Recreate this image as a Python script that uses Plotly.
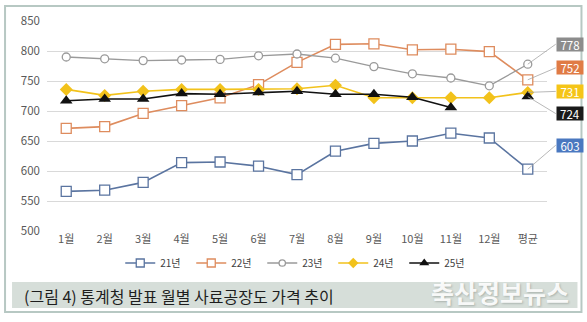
import plotly.graph_objects as go

months = ['1월', '2월', '3월', '4월', '5월', '6월', '7월', '8월', '9월', '10월', '11월', '12월', '평균']
y21 = [566, 568, 581, 614, 615, 608, 594, 633, 646, 650, 663, 655, 603]
y22 = [671, 674, 696, 709, 722, 744, 781, 811, 812, 802, 803, 799, 752]
y23 = [790, 787, 784, 785, 786, 792, 795, 788, 774, 762, 755, 742, 778]
y24 = [736, 726, 733, 736, 736, 736, 737, 743, 722, 722, 722, 722, 731]
y25 = [717, 720, 720, 729, 728, 731, 733, 728, 728, 723, 706, None, 724]
series_names = ['21년', '22년', '23년', '24년', '25년']
avg_labels = ['603', '752', '778', '731', '724']
caption = '(그림 4) 통계청 발표 월별 사료공장도 가격 추이'
watermark = '축산정보뉴스'

W, H = 587, 322
L, R, T, B = 47, 547.5, 21, 231


def px(x):
    return (x - L) / (R - L)


def py(y):
    return (B - y) / (B - T)


FONT = 'Noto Sans CJK KR'
styles = [
    dict(color='#5a74a0', symbol='square-open', size=10, fill='white', lw=1.6),
    dict(color='#de8c5e', symbol='square-open', size=10, fill='white', lw=1.6),
    dict(color='#9a9a9a', symbol='circle-open', size=8, fill='white', lw=1.3),
    dict(color='#f2c21b', symbol='diamond', size=10, fill='#f2c21b', lw=1.6),
    dict(color='#111111', symbol='triangle-up', size=11, fill='#111111', lw=1.6),
]


def make_marker(st, scale=1.0):
    if st['symbol'].endswith('-open'):
        return dict(symbol=st['symbol'].replace('-open', ''), size=st['size'] * scale, color='white',
                    line=dict(color=st['color'], width=1.3))
    return dict(symbol=st['symbol'], size=st['size'] * scale, color=st['fill'],
                line=dict(color=st['color'], width=0))


fig = go.Figure()
for name, ys, st in zip(series_names, [y21, y22, y23, y24, y25], styles):
    fig.add_trace(go.Scatter(x=months, y=ys, name=name, mode='lines+markers', legendgroup=name,
                             showlegend=False,
                             line=dict(color=st['color'], width=st['lw']),
                             marker=make_marker(st), connectgaps=False))
# legend entries with smaller symbols (no data drawn)
for name, st in zip(series_names, styles):
    fig.add_trace(go.Scatter(x=[None], y=[None], name=name, mode='lines+markers', legendgroup=name,
                             showlegend=True,
                             line=dict(color=st['color'], width=1.3),
                             marker=make_marker(st, 0.8)))

# average labels
box_colors = ['#4a78c0', '#e07b45', '#8c8c8c', '#f5c518', '#1a1a1a']
offsets = [(28, -24), (28, -12), (28, -20), (28, -1), (28, 17)]
avg_vals = [y21[-1], y22[-1], y23[-1], y24[-1], y25[-1]]
for lab, val, col, (ax, ay) in zip(avg_labels, avg_vals, box_colors, offsets):
    fig.add_annotation(x=months[-1], y=val, text=lab, showarrow=True, arrowhead=0,
                       arrowwidth=0.8, arrowcolor='#a6a6a6', ax=ax, ay=ay, standoff=0,
                       bgcolor=col, borderpad=0, xanchor='left', yanchor='middle',
                       width=26, height=13, align='center', valign='middle',
                       font=dict(family=FONT, size=11.5, color='white'))

shapes = [
    # outer frame
    dict(type='rect', xref='paper', yref='paper', x0=px(5), x1=px(582), y0=py(6), y1=py(312),
         line=dict(color='#b7c8c3', width=2), fillcolor='rgba(0,0,0,0)', layer='below'),
    # caption band
    dict(type='rect', xref='paper', yref='paper', x0=px(12), x1=px(578), y0=py(282), y1=py(308),
         line=dict(width=0), fillcolor='#d6ded9', layer='below'),
]

annotations = [
    dict(xref='paper', yref='paper', x=px(22), y=py(296), text=caption, showarrow=False,
         xanchor='left', yanchor='middle', font=dict(family=FONT, size=16, color='#1e1e1e')),
    dict(xref='paper', yref='paper', x=px(500), y=py(292), text='<b>' + watermark + '</b>', showarrow=False,
         xanchor='center', yanchor='middle',
         font=dict(family=FONT, size=25, color='rgba(255,255,255,0.92)',
                   shadow='1px 1px 2px rgba(80,90,85,0.35)')),
]

fig.update_layout(
    width=W, height=H,
    margin=dict(l=L, r=W - R, t=T, b=H - B),
    paper_bgcolor='white', plot_bgcolor='white',
    shapes=shapes,
    showlegend=True,
    legend=dict(orientation='h', x=px(298), xanchor='center', y=py(263), yanchor='middle',
                font=dict(family=FONT, size=10, color='#404040'),
                entrywidth=26, entrywidthmode='pixels', itemwidth=30,
                tracegroupgap=0,
                bgcolor='rgba(0,0,0,0)'),
    font=dict(family=FONT),
)
for a in annotations:
    fig.add_annotation(**a)

fig.update_xaxes(type='category', categoryorder='array', categoryarray=months,
                 range=[-0.5, 12.5], showgrid=False, showline=False, zeroline=False,
                 ticks='', tickfont=dict(family=FONT, size=11, color='#595959'))
fig.update_yaxes(range=[500, 850], dtick=50, tick0=500, showgrid=True, gridcolor='#d9d9d9',
                 gridwidth=1, zeroline=False, showline=False, ticks='',
                 tickfont=dict(family=FONT, size=11.5, color='#595959'), ticklabelstandoff=6)

fig.write_html('out.html')
